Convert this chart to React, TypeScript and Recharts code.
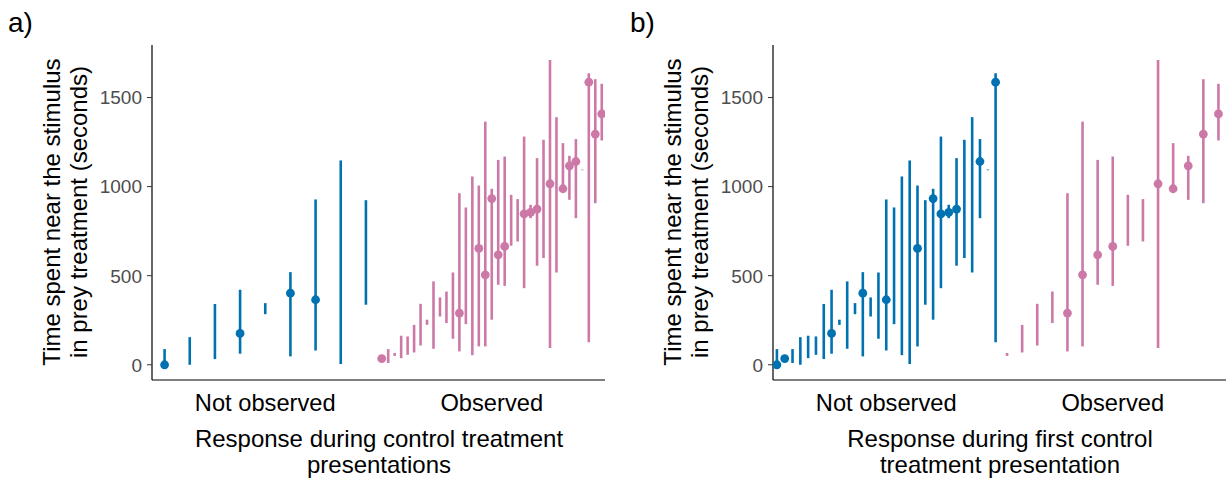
import React from 'react';
import { ScatterChart, Scatter, XAxis, YAxis, ErrorBar } from 'recharts';

// ---------- data ----------
const categoryLabels = ['Not observed', 'Observed'];
const yTicks = [0, 500, 1000, 1500];

// Panel a: response during control treatment presentations
const aNotObsLow = [0, 0, 32, 62, 284, 47, 80, 4, 337];
const aNotObsHigh = [88, 155, 341, 421, 346, 520, 928, 1147, 924];
const aNotObsMid: (number | null)[] = [0, null, null, 176, null, 402, 365, null, null];

const aObsLow = [35, 10, 50, 37, 56, 69, 108, 224, 90, 271, 234, 146, 75, 228, 54, 103, 103, 253, 449, 443, 668, 692, 430, 823, 556, 599, 94, 518, 967, 926, 823, 1092, 127, 907, 1259];
const aObsHigh = [35, 88, 66, 163, 159, 224, 342, 253, 468, 378, 411, 518, 963, 883, 1057, 1006, 1365, 988, 1150, 1169, 954, 930, 1281, 898, 1160, 1263, 1711, 1390, 1244, 1173, 1267, 1096, 1637, 1603, 1577];
const aObsMid: (number | null)[] = [35, null, null, null, null, null, null, null, null, null, null, null, 290, null, null, 653, 505, 933, 617, 664, null, null, 847, 855, 874, null, 1016, null, 988, 1117, 1141, null, 1586, 1295, 1408];

// Panel b: response during first control treatment presentation
const bNotObsLow = [0, 35, 10, 0, 37, 56, 32, 62, 224, 90, 284, 47, 271, 146, 80, 228, 54, 4, 103, 337, 253, 430, 823, 556, 599, 518, 823, 1092, 127];
const bNotObsHigh = [88, 35, 88, 155, 163, 159, 341, 421, 253, 468, 346, 520, 378, 518, 928, 883, 1057, 1147, 1006, 924, 988, 1281, 898, 1160, 1263, 1390, 1267, 1096, 1637];
const bNotObsMid: (number | null)[] = [0, 35, null, null, null, null, null, 176, null, null, null, 402, null, null, 365, null, null, null, 653, null, 933, 847, 855, 874, null, null, 1141, null, 1586];

const bObsLow = [50, 69, 108, 234, 75, 103, 449, 443, 668, 692, 94, 967, 926, 907, 1259];
const bObsHigh = [66, 224, 342, 411, 963, 1365, 1150, 1169, 954, 930, 1711, 1244, 1173, 1603, 1577];
const bObsMid: (number | null)[] = [null, null, null, null, 290, 505, 617, 664, null, null, 1016, 988, 1117, 1295, 1408];

// ---------- styling ----------
const BLUE = '#0072B2';
const PINK = '#CC79A7';
const FONT = '"Liberation Sans", Arial, Helvetica, sans-serif';

type Row = { x: number; y: number; err?: [number, number] };

function dodgeRanges(cat: number, lo: number[], hi: number[]): Row[] {
  const n = lo.length;
  return lo.map((l, i) => ({ x: cat + (i - (n - 1) / 2) / n, y: l, err: [0, hi[i] - l] as [number, number] }));
}
function dodgePoints(cat: number, mid: (number | null)[]): Row[] {
  const n = mid.length;
  const out: Row[] = [];
  mid.forEach((m, i) => {
    if (m !== null) out.push({ x: cat + (i - (n - 1) / 2) / n, y: m });
  });
  return out;
}

const YTick = (p: any) => (
  <text x={p.x} y={p.y} dy="0.36em" textAnchor="end" fill="#4D4D4D" fontSize={19} fontFamily={FONT}>
    {p.payload.value}
  </text>
);

const XTick = (p: any) => (
  <text x={p.x} y={p.y} dy={31} textAnchor="middle" fill="#000" fontSize={23.7} fontFamily={FONT}>
    {categoryLabels[Math.round(p.payload.value) - 1]}
  </text>
);

const NoShape = () => <g />;
const dot = (color: string) => (p: any) => <circle cx={p.cx} cy={p.cy} r={4.4} fill={color} />;

function Panel(props: {
  width: number;
  marginLeft: number;
  marginRight: number;
  notLow: number[];
  notHigh: number[];
  notMid: (number | null)[];
  obsLow: number[];
  obsHigh: number[];
  obsMid: (number | null)[];
}) {
  const notRanges = dodgeRanges(1, props.notLow, props.notHigh);
  const notPts = dodgePoints(1, props.notMid);
  const obsRanges = dodgeRanges(2, props.obsLow, props.obsHigh);
  const obsPts = dodgePoints(2, props.obsMid);
  return (
    <ScatterChart
      width={props.width}
      height={479}
      margin={{ top: 45, right: props.marginRight, bottom: 59, left: props.marginLeft }}
    >
      <XAxis
        type="number"
        dataKey="x"
        domain={[0.5, 2.5]}
        ticks={[1, 2]}
        allowDataOverflow
        height={40}
        tickLine={false}
        tickSize={0}
        tickMargin={0}
        axisLine={{ stroke: '#000', strokeWidth: 1.2 }}
        tick={XTick}
      />
      <YAxis
        type="number"
        dataKey="y"
        domain={[-85.5, 1795]}
        ticks={yTicks}
        allowDataOverflow
        width={60}
        tickSize={5}
        tickMargin={5}
        axisLine={{ stroke: '#000', strokeWidth: 1.2 }}
        tickLine={{ stroke: '#333', strokeWidth: 1 }}
        tick={YTick}
      />
      <Scatter data={notRanges} shape={NoShape} isAnimationActive={false}>
        <ErrorBar dataKey="err" direction="y" width={0} stroke={BLUE} strokeWidth={2.6} isAnimationActive={false} />
      </Scatter>
      <Scatter data={obsRanges} shape={NoShape} isAnimationActive={false}>
        <ErrorBar dataKey="err" direction="y" width={0} stroke={PINK} strokeWidth={2.6} isAnimationActive={false} />
      </Scatter>
      <Scatter data={notPts} shape={dot(BLUE)} isAnimationActive={false} />
      <Scatter data={obsPts} shape={dot(PINK)} isAnimationActive={false} />
    </ScatterChart>
  );
}

export default function App() {
  return (
    <div style={{ position: 'absolute', left: 0, top: 0, width: 1226, height: 479, overflow: 'hidden', background: '#fff' }}>
      <div style={{ position: 'absolute', left: 0, top: 0 }}>
        <Panel
          width={620}
          marginLeft={92}
          marginRight={15}
          notLow={aNotObsLow}
          notHigh={aNotObsHigh}
          notMid={aNotObsMid}
          obsLow={aObsLow}
          obsHigh={aObsHigh}
          obsMid={aObsMid}
        />
      </div>
      <div style={{ position: 'absolute', left: 620, top: 0 }}>
        <Panel
          width={606}
          marginLeft={93}
          marginRight={0}
          notLow={bNotObsLow}
          notHigh={bNotObsHigh}
          notMid={bNotObsMid}
          obsLow={bObsLow}
          obsHigh={bObsHigh}
          obsMid={bObsMid}
        />
      </div>
      <svg width={1226} height={479} style={{ position: 'absolute', left: 0, top: 0, pointerEvents: 'none' }}>
        <g fontFamily={FONT} fill="#000">
          <text x={8} y={32} fontSize={28}>a)</text>
          <text x={630} y={32} fontSize={28}>b)</text>
          <text transform="translate(60,212) rotate(-90)" textAnchor="middle" fontSize={24}>
            <tspan x={0} y={0}>Time spent near the stimulus</tspan>
            <tspan x={0} y={27}>in prey treatment (seconds)</tspan>
          </text>
          <text transform="translate(681,212) rotate(-90)" textAnchor="middle" fontSize={24}>
            <tspan x={0} y={0}>Time spent near the stimulus</tspan>
            <tspan x={0} y={27}>in prey treatment (seconds)</tspan>
          </text>
          <text x={379} y={447} textAnchor="middle" fontSize={24}>Response during control treatment</text>
          <text x={379} y={473} textAnchor="middle" fontSize={24}>presentations</text>
          <text x={1000} y={447} textAnchor="middle" fontSize={24}>Response during first control</text>
          <text x={1000} y={473} textAnchor="middle" fontSize={24}>treatment presentation</text>
        </g>
      </svg>
    </div>
  );
}
